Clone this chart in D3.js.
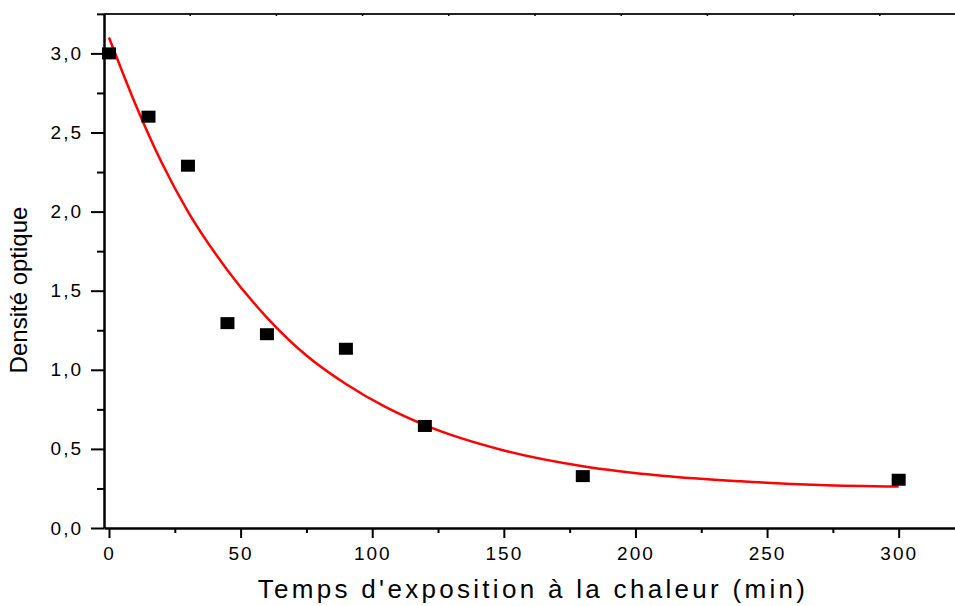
<html>
<head>
<script src="https://d3js.org/d3.v7.min.js"></script>
<style>
  body { margin: 0; padding: 0; background: #fff; }
  text { font-family: "Liberation Sans", Arial, sans-serif; fill: #000; }
</style>
</head>
<body>
<script>
// measured points
const timeMin = [0, 15, 30, 45, 60, 90, 120, 180, 300];
const density = [3.0, 2.60, 2.29, 1.295, 1.225, 1.133, 0.645, 0.328, 0.305];

// fitted curve
const fitTime = [0, 10, 20, 30, 45, 60, 75, 90, 105, 120, 150, 180, 210, 240, 270, 300];
const fitDensity = [3.10, 2.68, 2.31, 2.00, 1.63, 1.33, 1.09, 0.91, 0.765, 0.65, 0.49, 0.39, 0.33, 0.295, 0.272, 0.262];

const xMajor = [0, 50, 100, 150, 200, 250, 300];
const xMinor = [25, 75, 125, 175, 225, 275];
const yMajor = [0, 0.5, 1.0, 1.5, 2.0, 2.5, 3.0];
const yMinor = [0.25, 0.75, 1.25, 1.75, 2.25, 2.75, 3.25];

const xTitle = "Temps d'exposition à la chaleur (min)";
const yTitle = "Densité optique";

const width = 955, height = 606;
const plotL = 104, plotR = 955, plotT = 14, plotB = 528;

const svg = d3.select("body").append("svg")
  .attr("width", width)
  .attr("height", height);

const x = d3.scaleLinear().domain([-1.9, 321.4]).range([plotL, plotR]);
const y = d3.scaleLinear().domain([0, 3.249]).range([plotB, plotT]);

const comma = d => d3.format(".1f")(d).replace(".", ",");

// top frame line with tiny ticks
const xTop = d3.scaleLinear().domain([0, 10]).range([plotL, plotL + 862]);
svg.append("line")
  .attr("x1", plotL).attr("x2", plotR)
  .attr("y1", plotT).attr("y2", plotT)
  .attr("stroke", "#222").attr("stroke-width", 2);
svg.selectAll(".topTick")
  .data(d3.range(1, 10))
  .enter().append("line")
  .attr("x1", d => xTop(d)).attr("x2", d => xTop(d))
  .attr("y1", plotT).attr("y2", plotT + 2)
  .attr("stroke", "#000").attr("stroke-width", 1.5);

// x axis
svg.append("g")
  .attr("transform", "translate(0," + plotB + ")")
  .call(d3.axisBottom(x).tickValues(xMajor).tickSize(10).tickSizeOuter(0).tickPadding(9));
svg.append("g")
  .attr("transform", "translate(0," + plotB + ")")
  .call(d3.axisBottom(x).tickValues(xMinor).tickSize(5).tickFormat(""))
  .select(".domain").remove();

// y axis
svg.append("g")
  .attr("transform", "translate(" + plotL + ",0)")
  .call(d3.axisLeft(y).tickValues(yMajor).tickSize(13).tickSizeOuter(0).tickPadding(8).tickFormat(comma));
svg.append("g")
  .attr("transform", "translate(" + plotL + ",0)")
  .call(d3.axisLeft(y).tickValues(yMinor).tickSize(7).tickFormat(""))
  .select(".domain").remove();

svg.selectAll(".domain").attr("stroke", "#000").attr("stroke-width", 2.5);
svg.selectAll(".tick line").attr("stroke", "#000").attr("stroke-width", 2);
svg.selectAll(".tick text")
  .style("font-family", "'Liberation Sans', Arial, sans-serif")
  .style("font-size", "19px")
  .style("letter-spacing", "2px")
  .attr("fill", "#000");

// fitted curve
const line = d3.line()
  .x((d, i) => x(fitTime[i]))
  .y(d => y(d))
  .curve(d3.curveMonotoneX);
svg.append("path")
  .datum(fitDensity)
  .attr("d", line)
  .attr("fill", "none")
  .attr("stroke", "#ff0000")
  .attr("stroke-width", 2.5);

// square markers
svg.selectAll(".pt")
  .data(density)
  .enter().append("rect")
  .attr("x", (d, i) => x(timeMin[i]) - 7)
  .attr("y", d => y(d) - 6)
  .attr("width", 14)
  .attr("height", 12)
  .attr("fill", "#000");

// axis titles
svg.append("text")
  .attr("x", 533).attr("y", 598)
  .attr("text-anchor", "middle")
  .style("font-size", "26px")
  .style("letter-spacing", "3.3px")
  .text(xTitle);

svg.append("text")
  .attr("transform", "translate(27,290) rotate(-90)")
  .attr("text-anchor", "middle")
  .style("font-size", "24px")
  .text(yTitle);
</script>
</body>
</html>
